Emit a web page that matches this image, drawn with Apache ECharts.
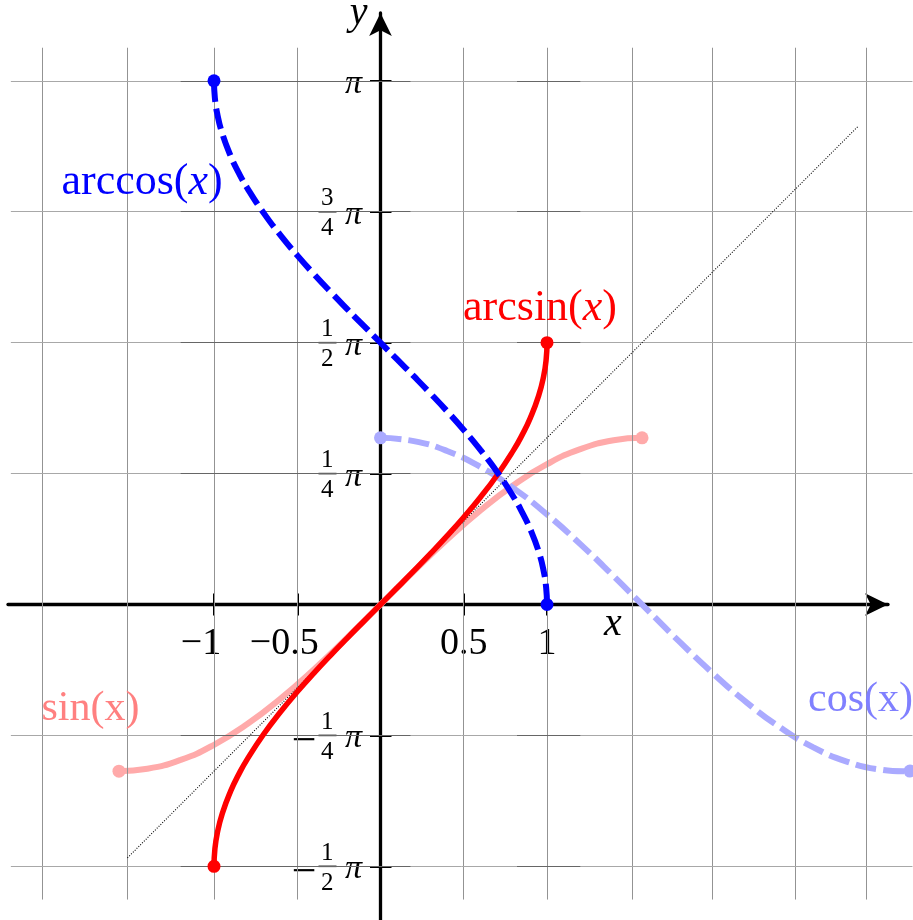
<!DOCTYPE html>
<html>
<head>
<meta charset="utf-8">
<script src="https://cdn.jsdelivr.net/npm/echarts@6/dist/echarts.min.js"></script>
<style>
  html, body { margin: 0; padding: 0; background: #fff; }
  #chart { width: 913px; height: 920px; }
</style>
</head>
<body>
<div id="chart"></div>
<script>
// ---- sampled curves ----
const invX     = [-1, -0.995, -0.98, -0.95, -0.9, -0.85, -0.8, -0.7, -0.6, -0.5, -0.4, -0.3, -0.2, -0.1, 0,
                  0.1, 0.2, 0.3, 0.4, 0.5, 0.6, 0.7, 0.8, 0.85, 0.9, 0.95, 0.98, 0.995, 1];
const arcsinY  = [-1.5708, -1.4708, -1.3705, -1.2532, -1.1198, -1.0160, -0.9273, -0.7754, -0.6435, -0.5236, -0.4115, -0.3047, -0.2014, -0.1002, 0,
                  0.1002, 0.2014, 0.3047, 0.4115, 0.5236, 0.6435, 0.7754, 0.9273, 1.0160, 1.1198, 1.2532, 1.3705, 1.4708, 1.5708];
const arccosY  = [3.1416, 3.0416, 2.9413, 2.8240, 2.6906, 2.5868, 2.4981, 2.3462, 2.2143, 2.0944, 1.9823, 1.8755, 1.7722, 1.6710, 1.5708,
                  1.4706, 1.3694, 1.2661, 1.1593, 1.0472, 0.9273, 0.7954, 0.6435, 0.5548, 0.4510, 0.3176, 0.2003, 0.1000, 0];
const sinX     = [-1.5708, -1.4, -1.2, -1.0, -0.8, -0.6, -0.4, -0.2, 0, 0.2, 0.4, 0.6, 0.8, 1.0, 1.2, 1.4, 1.5708];
const sinY     = [-1, -0.9854, -0.9320, -0.8415, -0.7174, -0.5646, -0.3894, -0.1987, 0, 0.1987, 0.3894, 0.5646, 0.7174, 0.8415, 0.9320, 0.9854, 1];
const cosX     = [0, 0.2, 0.4, 0.6, 0.8, 1.0, 1.2, 1.4, 1.6, 1.8, 2.0, 2.2, 2.4, 2.6, 2.8, 3.0, 3.1416, 3.18];
const cosY     = [1, 0.9801, 0.9211, 0.8253, 0.6967, 0.5403, 0.3624, 0.1700, -0.0292, -0.2272, -0.4161, -0.5885, -0.7374, -0.8569, -0.9422, -0.9900, -1, -0.9993];
const diagX    = [-1.52, 2.87];   // y = x reference line

// ---- ticks and grid ----
const xTickValues = [-1, -0.5, 0.5, 1];
const xTickLabels = ['−1', '−0.5', '0.5', '1'];
const yTickValues = [-Math.PI / 2, -Math.PI / 4, Math.PI / 4, Math.PI / 2, 3 * Math.PI / 4, Math.PI];
const yTickLabels = ['−1/2', '−1/4', '1/4', '1/2', '3/4', '1'];   // multiples of π
const gridXs = [-2.03, -1.52, -1, -0.5, 0.5, 1, 1.51, 1.99, 2.49, 2.92];
const gridYs = [-Math.PI / 2, -Math.PI / 4, Math.PI / 4, Math.PI / 2, 3 * Math.PI / 4, Math.PI];

// ---- names ----
const curveNames = ['arcsin', 'arccos', 'sin(x)', 'cos(x)'];
const axisNames = ['x', 'y'];

// ---- page geometry (pixels) ----
const W = 913, H = 920;
const OX = 380.5, OY = 604.5, SX = 166.5, SY = 166.7;   // origin and unit lengths
const toX = px => (px - OX) / SX;
const toY = py => (OY - py) / SY;
const AX = { left: 8, right: 888, top: 13, bottom: 920 };   // axis line extents (arrow tips included)
const X_OFFSET = -(AX.bottom - OY);   // moves the bottom axis up to y = 0
const Y_OFFSET = -(OX - AX.left);     // moves the left axis right to x = 0

const FONT = '"Liberation Serif", "Times New Roman", serif';

const gridExt = { x0: -2.22, x1: 3.195, y0: -1.77, y1: 3.34, hx0: [-1.2, 0.82], hx1: [0.18, 1.2] };

function pairs(xs, ys) {
  return xs.map((x, i) => ({
    value: [x, ys[i]],
    symbol: (i === 0 || i === xs.length - 1) ? 'circle' : 'none'
  }));
}

// grid line segments
const gridSegs = [];
const seg = (a, b, color) => [{ coord: a, lineStyle: { color: color, width: 1, type: 'solid' } }, { coord: b }];
gridXs.forEach(x => gridSegs.push(seg([x, gridExt.y0], [x, gridExt.y1], '#939393')));
gridYs.forEach(y => {
  gridSegs.push(seg([gridExt.x0, y], [gridExt.x1, y], '#a8a8a8'));
  for (let k = 0; k < 2; k++) gridSegs.push(seg([gridExt.hx0[k], y], [gridExt.hx1[k], y], '#666'));
});

function xLabel(v) {
  const i = xTickValues.findIndex(t => Math.abs(t - v) < 1e-9);
  if (i < 0) return '';
  return v < 0 ? '{neg|' + xTickLabels[i] + '}' : '{pos|' + xTickLabels[i] + '}';
}
function yIndex(v) { return yTickValues.findIndex(t => Math.abs(t - v) < 1e-6); }
function piLabel(v) { return yIndex(v) < 0 ? '' : '{pi|π}'; }
function fracLabel(v) {
  const i = yIndex(v);
  if (i < 0) return '';
  const t = yTickLabels[i];
  if (t.indexOf('/') < 0) return '';
  const neg = t.charAt(0) === '−';
  const parts = t.replace('−', '').split('/');
  return '{n|' + parts[0] + '}\n' + (neg ? '{m|−}' : '') + '{bar| }\n{n|' + parts[1] + '}';
}

const axisLineStyle = { color: '#000', width: 3.3 };
const tickStyle = { color: '#000', width: 2 };
const axisGrid = { left: AX.left, top: AX.top, width: AX.right - AX.left, height: AX.bottom - AX.top, containLabel: false, outerBoundsMode: 'none' };

function nameLabel(text, coord) {
  return {
    coord: coord,
    label: { show: true, position: 'inside', formatter: text, fontFamily: FONT, fontStyle: 'italic', fontSize: 40, color: '#000' }
  };
}
function curveLabel(fmt, rich, coord, extra) {
  return {
    silent: true, animation: false, symbol: 'circle', symbolSize: 1, itemStyle: { color: 'rgba(0,0,0,0)' },
    label: Object.assign({ show: true, position: 'inside', formatter: fmt, rich: rich }, extra || {}),
    data: [{ coord: coord }]
  };
}
function mathRich(color) {
  return {
    r: { fontFamily: FONT, fontSize: 44, color: color },
    i: { fontFamily: FONT, fontSize: 44, fontStyle: 'italic', color: color }
  };
}

const option = {
  animation: false,
  backgroundColor: '#fff',
  grid: [
    { left: 0, top: 0, width: W, height: H, containLabel: false, outerBoundsMode: 'none' },
    axisGrid,
    Object.assign({}, axisGrid)
  ],
  xAxis: [
    { gridIndex: 0, type: 'value', min: toX(0), max: toX(W), show: false },
    {
      gridIndex: 1, type: 'value', min: toX(AX.left), max: toX(AX.right), z: 3,
      position: 'bottom', offset: X_OFFSET,
      axisLine: { show: true, onZero: false, symbol: ['none', 'arrow'], symbolSize: [17, 23], lineStyle: axisLineStyle },
      axisTick: { show: true, customValues: xTickValues, length: 11, inside: false, lineStyle: tickStyle },
      axisLabel: {
        show: true, customValues: xTickValues, margin: 21, formatter: xLabel, fontSize: 1, lineHeight: 1,
        rich: {
          pos: { fontFamily: FONT, fontSize: 38, lineHeight: 38, color: '#000' },
          neg: { fontFamily: FONT, fontSize: 38, lineHeight: 38, color: '#000', padding: [0, 26, 0, 0] }
        }
      },
      splitLine: { show: false }
    },
    {
      gridIndex: 2, type: 'value', min: toX(AX.left), max: toX(AX.right), z: 3,
      position: 'bottom', offset: X_OFFSET,
      axisLine: { show: false, onZero: false },
      axisTick: { show: true, customValues: xTickValues, length: 11, inside: true, lineStyle: tickStyle },
      axisLabel: { show: false },
      splitLine: { show: false }
    }
  ],
  yAxis: [
    { gridIndex: 0, type: 'value', min: toY(H), max: toY(0), show: false },
    {
      gridIndex: 1, type: 'value', min: toY(AX.bottom), max: toY(AX.top), z: 3,
      position: 'left', offset: Y_OFFSET,
      axisLine: { show: true, onZero: false, symbol: ['none', 'arrow'], symbolSize: [17, 23], lineStyle: axisLineStyle },
      axisTick: { show: true, customValues: yTickValues, length: 11, inside: false, lineStyle: tickStyle },
      axisLabel: {
        show: true, customValues: yTickValues, margin: 10.5, formatter: piLabel, fontSize: 1, lineHeight: 1,
        rich: {
          pi: { fontFamily: FONT, fontStyle: 'italic', fontSize: 34, lineHeight: 40, color: '#000', backgroundColor: '#fff', padding: [6, 8, 0, 8] }
        }
      },
      splitLine: { show: false }
    },
    {
      gridIndex: 2, type: 'value', min: toY(AX.bottom), max: toY(AX.top), z: 3,
      position: 'left', offset: Y_OFFSET,
      axisLine: { show: false, onZero: false },
      axisTick: { show: true, customValues: yTickValues, length: 11, inside: true, lineStyle: tickStyle },
      axisLabel: {
        show: true, customValues: yTickValues, margin: 44, formatter: fracLabel, fontSize: 1, lineHeight: 1,
        rich: {
          n: { fontFamily: FONT, fontSize: 25, lineHeight: 28, color: '#000', padding: [4, 3, 0, 3] },
          bar: { width: 18, height: 1.5, lineHeight: 2, fontSize: 1, backgroundColor: '#000' },
          m: { fontFamily: FONT, fontSize: 44, lineHeight: 2, color: '#000', padding: [15, 2, 0, 0] }
        }
      },
      splitLine: { show: false }
    }
  ],
  series: [
    {
      type: 'line', xAxisIndex: 0, yAxisIndex: 0, data: [], z: 1, silent: true,
      markLine: { silent: true, animation: false, symbol: ['none', 'none'], label: { show: false },
                  lineStyle: { type: 'solid' }, data: gridSegs }
    },
    {
      type: 'line', xAxisIndex: 0, yAxisIndex: 0, data: [], z: 2, silent: true,
      markArea: {
        silent: true, animation: false, itemStyle: { color: '#fff', opacity: 1, borderWidth: 0 },
        data: [
          [{ coord: [0.42, 2.846] }, { coord: [1.0, 2.649] }],
          [{ coord: [0.42, -1.095] }, { coord: [1.0, -1.287] }]
        ]
      }
    },
    {
      type: 'line', xAxisIndex: 0, yAxisIndex: 0, data: [], z: 3, silent: true,
      markPoint: {
        silent: true, animation: false, symbol: 'circle', symbolSize: 1, itemStyle: { color: 'rgba(0,0,0,0)' },
        data: [nameLabel(axisNames[0], [1.396, -0.121]), nameLabel(axisNames[1], [-0.132, 3.545])]
      }
    },
    {
      name: curveNames[2], type: 'line', xAxisIndex: 0, yAxisIndex: 0, z: 4, smooth: true,
      data: pairs(sinX, sinY), showSymbol: true, symbolSize: 13,
      lineStyle: { color: '#ffaaaa', width: 6 }, itemStyle: { color: '#ffaaaa', borderWidth: 0 },
      markPoint: curveLabel(curveNames[2], null, [-1.742, -0.628], { fontFamily: FONT, fontSize: 42, color: '#ff8080' })
    },
    {
      name: curveNames[3], type: 'line', xAxisIndex: 0, yAxisIndex: 0, z: 4, smooth: true,
      data: pairs(cosX, cosY), showSymbol: true, symbolSize: 13,
      lineStyle: { color: '#aaaaff', width: 6, type: [21, 7] }, itemStyle: { color: '#aaaaff', borderWidth: 0 },
      markPoint: curveLabel(curveNames[3], null, [2.883, -0.575], { fontFamily: FONT, fontSize: 42, color: '#8080ff' })
    },
    {
      type: 'line', xAxisIndex: 0, yAxisIndex: 0, z: 5, silent: true,
      data: diagX.map(v => [v, v]), symbol: 'none',
      lineStyle: { color: '#000', width: 1.1, type: [1, 1.6] }
    },
    {
      name: curveNames[0], type: 'line', xAxisIndex: 0, yAxisIndex: 0, z: 6, smooth: true,
      data: pairs(invX, arcsinY), showSymbol: true, symbolSize: 13,
      lineStyle: { color: '#ff0000', width: 5.5 }, itemStyle: { color: '#ff0000', borderWidth: 0 },
      markPoint: curveLabel('{r|' + curveNames[0] + '(}{i|x}{r|)}', mathRich('#ff0000'), [0.958, 1.775])
    },
    {
      name: curveNames[1], type: 'line', xAxisIndex: 0, yAxisIndex: 0, z: 7, smooth: true,
      data: pairs(invX, arccosY), showSymbol: true, symbolSize: 13,
      lineStyle: { color: '#0000ff', width: 6, type: [21, 7] }, itemStyle: { color: '#0000ff', borderWidth: 0 },
      markPoint: curveLabel('{r|' + curveNames[1] + '(}{i|x}{r|)}', mathRich('#0000ff'), [-1.432, 2.531])
    }
  ]
};

const chart = echarts.init(document.getElementById('chart'), null, { renderer: 'canvas' });
chart.setOption(option);
</script>
</body>
</html>
